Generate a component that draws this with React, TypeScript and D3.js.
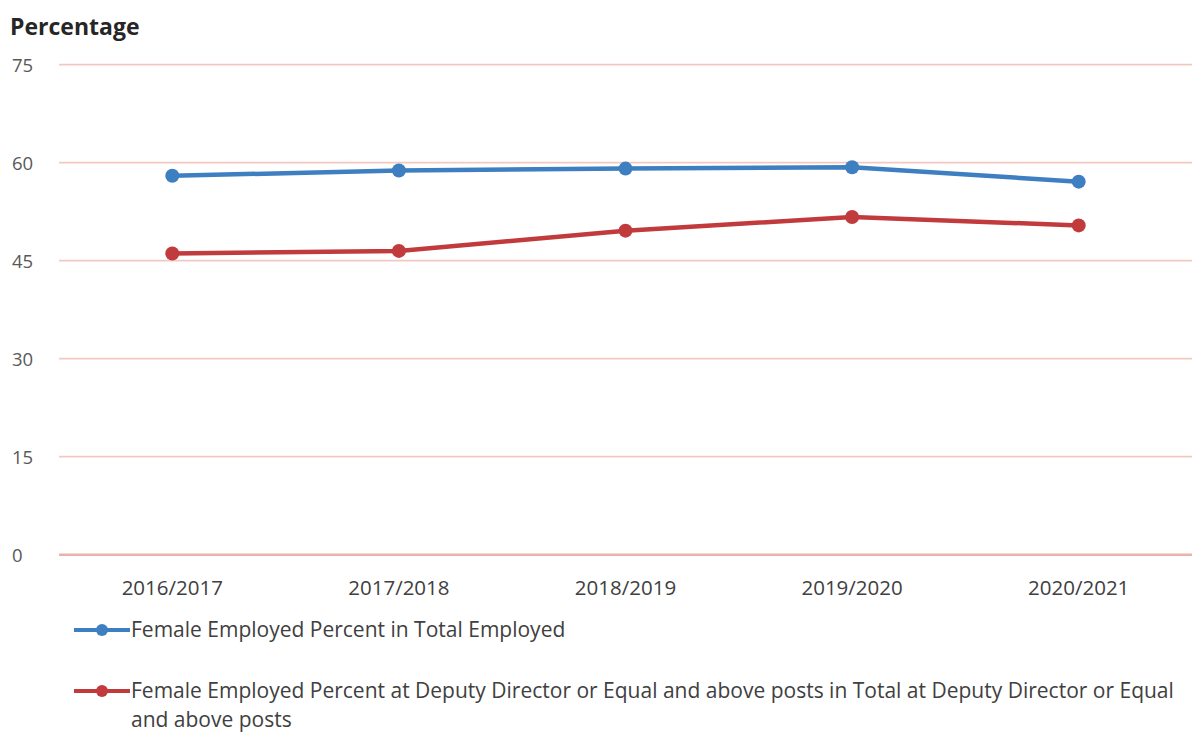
import React from "react";
import * as d3 from "d3";

const categories = ["2016/2017", "2017/2018", "2018/2019", "2019/2020", "2020/2021"];
const femaleTotal = [58.0, 58.8, 59.1, 59.3, 57.1];
const femaleDeputy = [46.1, 46.5, 49.6, 51.7, 50.4];
const yTicks = [0, 15, 30, 45, 60, 75];
const seriesNames = [
  "Female Employed Percent in Total Employed",
  "Female Employed Percent at Deputy Director or Equal and above posts in Total at Deputy Director or Equal",
];
const legendContinuation = "and above posts";

const W = 1192;
const H = 733;
const FONT = "'Open Sans', 'Noto Sans', sans-serif";

export default function App() {
  const x = d3.scaleBand<string>().domain(categories).range([59, 1192]);
  const y = d3.scaleLinear().domain([0, 75]).range([554.7, 64.7]);
  const cx = (c: string) => (x(c) as number) + x.bandwidth() / 2;
  const line = d3
    .line<number>()
    .x((_, i) => cx(categories[i]))
    .y((d) => y(d));

  const series = [
    { values: femaleTotal, color: "#3d7fc0" },
    { values: femaleDeputy, color: "#c23b3c" },
  ];

  return (
    <div style={{ position: "fixed", left: 0, top: 0 }}>
      <svg width={W} height={H} style={{ display: "block", background: "#fff" }}>
        <text x={10} y={35} fontFamily={FONT} fontWeight={700} fontSize={23} fill="#262626">
          Percentage
        </text>
        {yTicks.map((t) => (
          <g key={t}>
            <line x1={59} x2={1192} y1={y(t)} y2={y(t)} stroke={t === 0 ? "#eab3aa" : "#f1c9c2"} strokeWidth={t === 0 ? 2.5 : 1.8} />
            <text x={12} y={y(t) + 7} fontFamily={FONT} fontSize={18.5} fill="#595959">
              {t}
            </text>
          </g>
        ))}
        {categories.map((c) => (
          <text key={c} x={cx(c)} y={595} textAnchor="middle" fontFamily={FONT} fontSize={20.5} fill="#404040">
            {c}
          </text>
        ))}
        {series.map((s, k) => (
          <g key={k}>
            <path d={line(s.values) || ""} fill="none" stroke={s.color} strokeWidth={4.5} strokeLinejoin="round" />
            {s.values.map((v, i) => (
              <circle key={i} cx={cx(categories[i])} cy={y(v)} r={7} fill={s.color} />
            ))}
          </g>
        ))}
        {series.map((s, k) => {
          const ly = k === 0 ? 630 : 691;
          return (
            <g key={"l" + k}>
              <line x1={74} x2={130} y1={ly} y2={ly} stroke={s.color} strokeWidth={4} />
              <circle cx={102} cy={ly} r={6} fill={s.color} />
              <text x={131} y={ly + 7} fontFamily={FONT} fontSize={21} fill="#404040">
                {seriesNames[k]}
              </text>
            </g>
          );
        })}
        <text x={131} y={727} fontFamily={FONT} fontSize={21} fill="#404040">
          {legendContinuation}
        </text>
      </svg>
    </div>
  );
}
